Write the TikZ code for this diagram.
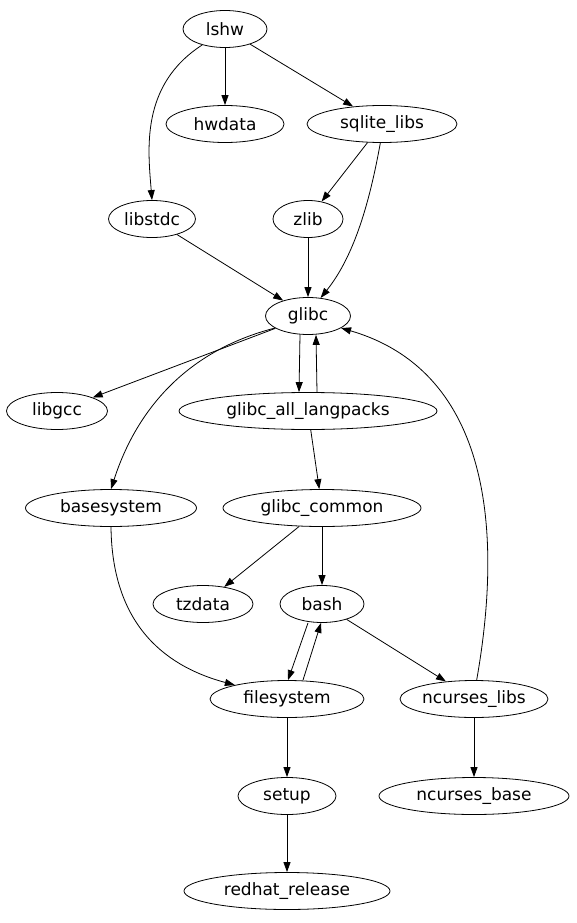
\documentclass[tikz,border=0pt]{standalone}
\usepackage{fontspec}
\setmainfont{DejaVu Sans}
\usepackage{tikz}
\usetikzlibrary{shapes.geometric, arrows.meta}

\begin{document}
\begin{tikzpicture}[
        x=1pt, y=-1pt,
        font=\fontsize{17pt}{20pt}\selectfont,
        pkg/.style={
            ellipse, draw=black, line width=0.8pt,
            inner sep=0pt, minimum height=37pt
        },
        arr/.style={-{Triangle[length=10pt,width=7pt]}, line width=0.8pt, black}
    ]
    \useasboundingbox (0,0) rectangle (576,923);

    % packages
    \node[pkg, minimum width=84pt]  (lshw)      at (225,29)  {lshw};
    \node[pkg, minimum width=118pt] (hwdata)    at (225,124) {hwdata};
    \node[pkg, minimum width=150pt] (sqlite)    at (382,124) {sqlite\_libs};
    \node[pkg, minimum width=87pt]  (libstdc)   at (152,219) {libstdc};
    \node[pkg, minimum width=70pt]  (zlib)      at (308,219) {zlib};
    \node[pkg, minimum width=85pt]  (glibc)     at (308,316) {glibc};
    \node[pkg, minimum width=101pt] (libgcc)    at (57,411)  {libgcc};
    \node[pkg, minimum width=258pt] (langpacks) at (308,411) {glibc\_all\_langpacks};
    \node[pkg, minimum width=171pt] (basesys)   at (111,508) {basesystem};
    \node[pkg, minimum width=198pt] (common)    at (322,508) {glibc\_common};
    \node[pkg, minimum width=100pt] (tzdata)    at (203,604) {tzdata};
    \node[pkg, minimum width=84pt]  (bash)      at (322,604) {bash};
    \node[pkg, minimum width=154pt] (filesys)   at (287,699) {filesystem};
    \node[pkg, minimum width=148pt] (ncurses)   at (474,699) {ncurses\_libs};
    \node[pkg, minimum width=98pt]  (setup)     at (287,796) {setup};
    \node[pkg, minimum width=190pt] (ncbase)    at (474,796) {ncurses\_base};
    \node[pkg, minimum width=206pt] (redhat)    at (287,891) {redhat\_release};

    % dependencies
    \draw[arr] (lshw) -- (hwdata);
    \draw[arr] (lshw) -- (sqlite);
    \draw[arr] (lshw.215) .. controls (140,85) and (148,150) .. (libstdc.north);
    \draw[arr] (sqlite) -- (zlib);
    \draw[arr] (sqlite.-95) .. controls (370,200) and (355,255) .. (glibc.55);
    \draw[arr] (libstdc) -- (glibc);
    \draw[arr] (zlib) -- (glibc);
    \draw[arr] (glibc) -- (libgcc);
    \draw[arr] ([xshift=-8pt]glibc.south) -- ([xshift=-9pt]langpacks.north);
    \draw[arr] ([xshift=9pt]langpacks.north) -- ([xshift=8pt]glibc.south);
    \draw[arr] (glibc.200) .. controls (170,355) and (130,430) .. (basesys.north);
    \draw[arr] (langpacks) -- (common);
    \draw[arr] (common) -- (tzdata);
    \draw[arr] (common) -- (bash);
    \draw[arr] ([xshift=-14pt]bash.south) -- ([xshift=1pt]filesys.north);
    \draw[arr] ([xshift=16pt]filesys.north) -- ([xshift=-1pt]bash.south);
    \draw[arr] (bash) -- (ncurses);
    \draw[arr] (basesys.south) .. controls (112,620) and (160,665) .. (filesys.165);
    \draw[arr] (ncurses.82) .. controls (505,520) and (485,370) .. (glibc.-20);
    \draw[arr] (filesys) -- (setup);
    \draw[arr] (ncurses) -- (ncbase);
    \draw[arr] (setup) -- (redhat);
\end{tikzpicture}
\end{document}
